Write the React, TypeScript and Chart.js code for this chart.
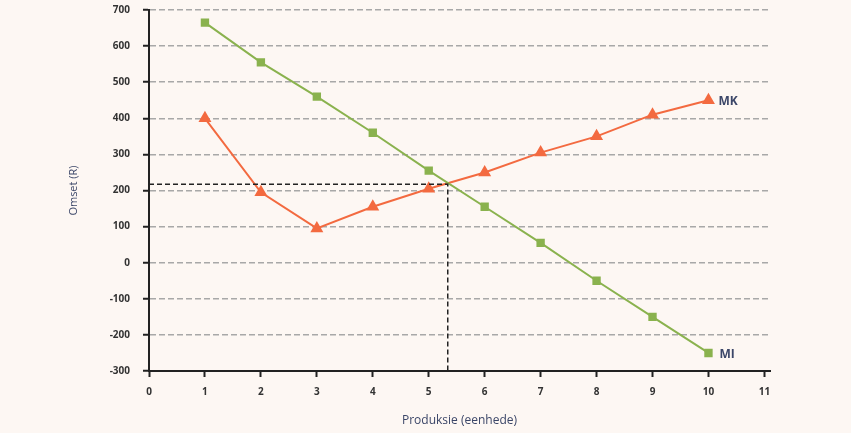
import React, { useEffect, useRef } from "react";
import { Chart, registerables } from "chart.js";

Chart.register(...registerables);

const units = [1, 2, 3, 4, 5, 6, 7, 8, 9, 10];
const miValues = [665, 555, 460, 360, 255, 155, 55, -50, -150, -250];
const mkValues = [400, 195, 95, 155, 205, 250, 305, 350, 410, 450];
const equilibriumX = 5.34;
const equilibriumY = 217;
const xTicks = [0, 1, 2, 3, 4, 5, 6, 7, 8, 9, 10, 11];
const yMin = -300;
const yMax = 700;
const seriesLabels = ["MI", "MK"];

const labelPlugin = {
  id: "endLabels",
  afterDatasetsDraw(chart: any) {
    const { ctx } = chart;
    const xs = chart.scales.x;
    const ys = chart.scales.y;
    ctx.save();
    ctx.font = "bold 12px 'Open Sans', sans-serif";
    ctx.fillStyle = "#3b4668";
    ctx.textBaseline = "middle";
    ctx.textAlign = "left";
    const lastX = units[units.length - 1];
    ctx.fillText(seriesLabels[0], xs.getPixelForValue(lastX) + 11, ys.getPixelForValue(miValues[miValues.length - 1]) + 2);
    ctx.fillText(seriesLabels[1], xs.getPixelForValue(lastX) + 10, ys.getPixelForValue(mkValues[mkValues.length - 1]) + 1);
    ctx.restore();
  },
};

export default function App() {
  const ref = useRef<HTMLCanvasElement | null>(null);
  useEffect(() => {
    if (!ref.current) return;
    const tickFont = { family: "'Open Sans', sans-serif", size: 10, weight: "bold" as const };
    const chart = new Chart(ref.current, {
      type: "line",
      data: {
        datasets: [
          {
            label: "eq",
            data: [
              { x: 0, y: equilibriumY },
              { x: equilibriumX, y: equilibriumY },
              { x: equilibriumX, y: yMin },
            ],
            borderColor: "#222",
            borderWidth: 1.5,
            borderDash: [5, 3],
            pointRadius: 0,
            fill: false,
          },
          {
            label: seriesLabels[0],
            data: units.map((u, i) => ({ x: u, y: miValues[i] })),
            borderColor: "#8ab24e",
            backgroundColor: "#8ab24e",
            borderWidth: 2,
            pointStyle: "rect",
            pointRadius: 4.5,
            fill: false,
          },
          {
            label: seriesLabels[1],
            data: units.map((u, i) => ({ x: u, y: mkValues[i] })),
            borderColor: "#f36a40",
            backgroundColor: "#f36a40",
            borderWidth: 2,
            pointStyle: "triangle",
            pointRadius: 5.5,
            fill: false,
          },
        ],
      },
      options: {
        animation: false,
        responsive: false,
        layout: { padding: { left: 0, top: 10, right: 81, bottom: 0 } },
        plugins: { legend: { display: false }, tooltip: { enabled: false } },
        scales: {
          x: {
            type: "linear",
            min: 0,
            max: 11.1,
            afterBuildTicks: (s: any) => {
              s.ticks = xTicks.map((v) => ({ value: v }));
            },
            afterFit: (s: any) => {
              s.height = 62;
              s.paddingLeft = 0;
              s.paddingRight = 0;
            },
            ticks: { font: tickFont, color: "#333", padding: 9, maxRotation: 0 },
            grid: { drawOnChartArea: false, drawTicks: true, tickLength: 6, tickColor: "#222", tickWidth: 2 },
            border: { color: "#222", width: 2 },
            title: {
              display: true,
              text: "Produksie (eenhede)",
              color: "#3b4668",
              font: { family: "'Open Sans', sans-serif", size: 12 },
              padding: { top: 0, bottom: 5 },
            },
          },
          y: {
            type: "linear",
            min: yMin,
            max: yMax,
            ticks: { stepSize: 100, font: tickFont, color: "#333", padding: 13 },
            afterFit: (s: any) => {
              s.width = 149;
              s.paddingTop = 0;
              s.paddingBottom = 0;
            },
            grid: { color: "#a8a8a8", lineWidth: 1.5, tickLength: 6, tickColor: "#222", tickWidth: 2 },
            border: { color: "#222", width: 2, dash: [6, 3] },
            title: {
              display: true,
              text: "Omset (R)",
              color: "#3b4668",
              font: { family: "'Open Sans', sans-serif", size: 11 },
              padding: { top: 67, bottom: 0 },
            },
          },
        },
      },
      plugins: [labelPlugin],
    });
    return () => chart.destroy();
  }, []);
  return (
    <div style={{ position: "fixed", left: 0, top: 0, width: 851, height: 433, background: "#fdf7f3" }}>
      <canvas ref={ref} width={851} height={433} style={{ width: 851, height: 433 }} />
    </div>
  );
}
